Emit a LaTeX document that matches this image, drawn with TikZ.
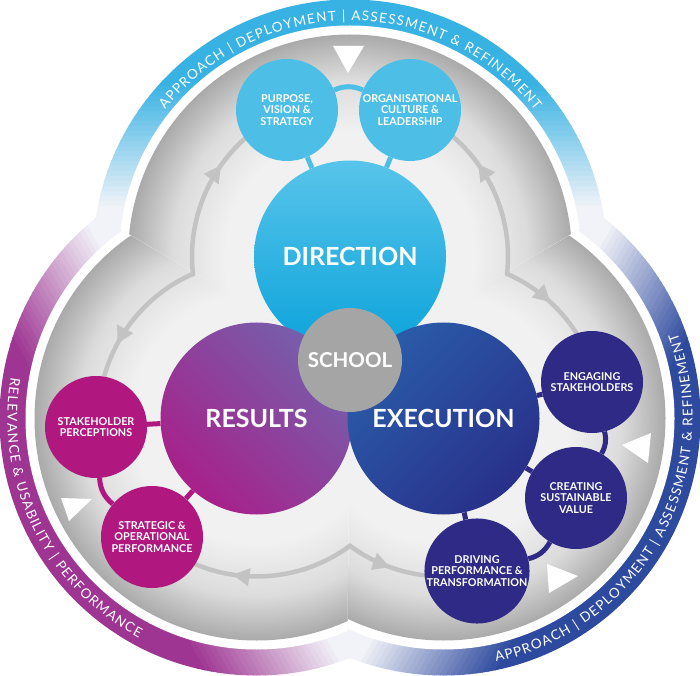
\documentclass[tikz,border=0pt]{standalone}
\usepackage{fontspec}
\setmainfont{Lato}
\usetikzlibrary{calc, arrows.meta, decorations.markings, decorations.text}

\definecolor{bandblue}{HTML}{38B2E3}
\definecolor{bandplum}{HTML}{9E3592}
\definecolor{bandnavy}{HTML}{2E4A9E}
\definecolor{bandpale}{HTML}{F2F3F8}
\definecolor{greyin}{HTML}{F1F1F1}
\definecolor{greymid}{HTML}{DCDCDC}
\definecolor{greyout}{HTML}{AAAAAA}
\definecolor{flowgrey}{HTML}{C3C3C3}
\definecolor{dirtop}{HTML}{58C4EA}
\definecolor{dirbot}{HTML}{0BA3DB}
\definecolor{respink}{HTML}{A8208A}
\definecolor{respurple}{HTML}{7560AC}
\definecolor{exeblue}{HTML}{2A5CA9}
\definecolor{exenavy}{HTML}{29308A}
\definecolor{subblue}{HTML}{4DBFE6}
\definecolor{subplum}{HTML}{B0177F}
\definecolor{subnavy}{HTML}{2E2A85}
\definecolor{schoolgrey}{HTML}{A5A5A5}

\pgfdeclareradialshading{greydisc}{\pgfpoint{0bp}{0bp}}{color(0bp)=(greyin); color(14bp)=(greyin); color(20bp)=(greymid); color(25bp)=(greyout); color(50bp)=(greyout)}

\newcommand{\bandfont}{\fontsize{13.5}{14}\selectfont\kern1.2pt\relax}

\tikzset{
  bigdisc/.style={circle, minimum size=192pt, inner sep=0pt, text=white, font=\fontsize{25}{30}\selectfont\bfseries},
  subdisc/.style={circle, minimum size=102pt, inner sep=0pt, fill=#1, text=white, align=center, font=\fontsize{10.8}{11.8}\selectfont\bfseries},
  link/.style={draw=#1, line width=5pt},
  flow/.style={draw=flowgrey, line width=4.5pt, line cap=round, postaction={decorate}, decoration={markings, mark=at position #1 with {\arrow{Triangle[length=17pt, width=17pt]}}}},
  marker/.style={fill=white}
}

\begin{document}
\begin{tikzpicture}[x=1pt, y=1pt]
\useasboundingbox (0,0) rectangle (700,675);
\coordinate (O) at (350,310.5);
\coordinate (T) at (350,418.5);
\coordinate (L) at (256.5,256.5);
\coordinate (R) at (443.5,256.5);

% outer rings and grey field, one lobe per wedge
\foreach \ctr/\dir/\hue in {T/90/bandblue, L/210/bandplum, R/330/bandnavy}{
  \begin{scope}
    \clip (O) -- ($(O)+(\dir-60.5:600)$) -- ($(O)+(\dir:600)$) -- ($(O)+(\dir+60.5:600)$) -- cycle;
    \clip (\ctr) circle (257);
    \begin{scope}[shift={(\ctr)}, rotate=\dir-90]
      \fill[bandpale] (-300,-300) rectangle (300,46);
      \foreach \k [evaluate=\k as \pc using int(4*\k)] in {0,...,25}
        \fill[\hue!\pc!bandpale] (-300,45+5*\k) rectangle (300,51+5*\k);
      \fill[\hue] (-300,175) rectangle (300,300);
    \end{scope}
    \fill[white] (\ctr) circle (231);
    \shade[shading=greydisc] (\ctr) circle (222);
  \end{scope}
}

% ring texts
\path[decorate, decoration={text along path, text align=center, text color=white,
  text={|\bandfont|APPROACH {\textbar} DEPLOYMENT {\textbar} ASSESSMENT {\&} REFINEMENT}}]
  (T) ++(160:236) arc[start angle=160, end angle=20, radius=236];
\path[decorate, decoration={text along path, text align=center, text color=white,
  text={|\bandfont|RELEVANCE {\&} USABILITY {\textbar} PERFORMANCE}}]
  (L) ++(145:249) arc[start angle=145, end angle=267, radius=249];
\path[decorate, decoration={text along path, text align=center, text color=white,
  text={|\bandfont|APPROACH {\textbar} DEPLOYMENT {\textbar} ASSESSMENT {\&} REFINEMENT}}]
  (R) ++(-98:249) arc[start angle=-98, end angle=40, radius=249];

% white markers on the rim
\fill[marker] (333,629) -- (364,629) -- (348,602) -- cycle;
\fill[marker] (622,230) -- (651,242) -- (648,212) -- cycle;
\fill[marker] (547,111) -- (578,99) -- (549,82) -- cycle;
\fill[marker] (61,177) -- (92,176) -- (69,154) -- cycle;

% grey flow arrows
\draw[flow=0.57] (T) ++(186.4:158) arc[start angle=186.4, end angle=113.3, radius=158];
\draw[flow=0.57] (T) ++(-6.4:158) arc[start angle=-6.4, end angle=67.9, radius=158];
\draw[flow=0.55] (L) ++(113.7:158) arc[start angle=113.7, end angle=183, radius=158];
\draw[flow=0.58] (L) ++(306.4:158) arc[start angle=306.4, end angle=228.6, radius=158];
\draw[flow=0.36] (R) ++(66.3:158) arc[start angle=66.3, end angle=13.8, radius=158];
\draw[flow=0.34] (R) ++(233.6:158) arc[start angle=233.6, end angle=282.4, radius=158];

% main discs
\node[bigdisc, top color=dirtop, bottom color=dirbot] (direction) at (T) {DIRECTION};
\node[bigdisc, top color=respurple, bottom color=respink, shading angle=-45] (results) at (L) {RESULTS};
\node[bigdisc, top color=exeblue, bottom color=exenavy, shading angle=45] (execution) at (R) {EXECUTION};
\node[circle, minimum size=104pt, inner sep=0pt, fill=schoolgrey, text=white, font=\fontsize{20.5}{21}\selectfont\bfseries] (school) at (350,315) {SCHOOL};

% satellite discs
\node[subdisc=subblue] (purpose) at (287,565) {PURPOSE,\\VISION \&\\STRATEGY};
\node[subdisc=subblue] (culture) at (410,565) {ORGANISATIONAL\\CULTURE \&\\LEADERSHIP};
\node[subdisc=subplum] (perception) at (96,248) {STAKEHOLDER\\PERCEPTIONS};
\node[subdisc=subplum] (performance) at (152,138) {STRATEGIC \&\\OPERATIONAL\\PERFORMANCE};
\node[subdisc=subnavy] (engaging) at (592,293) {ENGAGING\\STAKEHOLDERS};
\node[subdisc=subnavy] (value) at (576,177) {CREATING\\SUSTAINABLE\\VALUE};
\node[subdisc=subnavy] (driving) at (477,104) {DRIVING\\PERFORMANCE \&\\TRANSFORMATION};

% links
\draw[link=subblue] (purpose) to[bend left=23] (culture);
\draw[link=subblue] (purpose) -- (direction);
\draw[link=subblue] (culture) -- (direction);
\draw[link=subplum] (perception) -- (results);
\draw[link=subplum] (performance) -- (results);
\draw[link=subplum] (perception) to[bend right=23] (performance);
\draw[link=subnavy] (engaging) -- (execution);
\draw[link=subnavy] (value) -- (execution);
\draw[link=subnavy] (driving) -- (execution);
\draw[link=subnavy] (engaging) to[bend left=22] (value);
\draw[link=subnavy] (value) to[bend left=23] (driving);
\end{tikzpicture}
\end{document}
